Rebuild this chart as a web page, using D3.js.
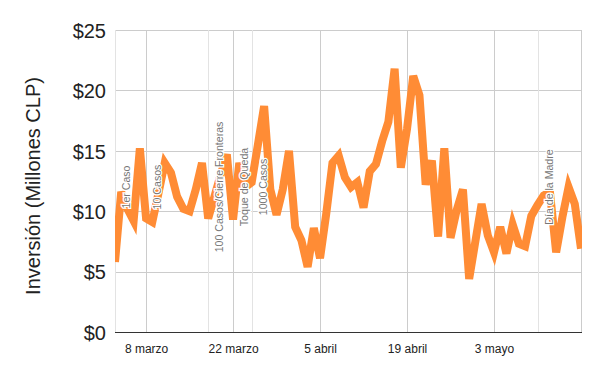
<!DOCTYPE html>
<html><head><meta charset="utf-8">
<script src="https://cdn.jsdelivr.net/npm/d3@7"></script>
<style>body{margin:0;background:#fff}svg{display:block}</style>
</head><body>
<svg id="c" width="600" height="371"></svg>
<script>
const startDate = "2020-03-03";
const values = [5.8,11.6,10.2,9.2,15.2,9.4,9.1,11.5,14.0,13.2,11.2,10.2,10.0,11.8,14.0,9.4,11.2,13.0,14.7,9.3,
14.0,12.0,12.4,15.5,18.7,11.8,9.7,11.8,15.0,8.7,7.6,5.4,8.6,6.1,9.8,14.0,14.6,12.8,12.0,12.4,
10.3,13.3,13.9,15.8,17.4,21.8,13.6,16.8,21.2,19.6,12.2,14.2,7.9,15.2,7.8,10.1,11.8,4.4,7.5,10.6,
8.0,6.6,8.7,6.5,8.9,7.3,7.1,9.6,10.5,11.3,11.6,6.6,9.5,12.0,10.6,6.9];
const tickDates = ["2020-03-08","2020-03-22","2020-04-05","2020-04-19","2020-05-03","2020-05-17"];
const tickLabels = ["8 marzo","22 marzo","5 abril","19 abril","3 mayo",""];
const yTicks = [0,5,10,15,20,25];
const annotationDates = ["2020-03-03","2020-03-08","2020-03-18","2020-03-22","2020-03-25","2020-05-10"];
const annotationLabels = ["1er Caso","10 Casos","100 Casos/Cierre Fronteras","Toque de Queda","1000 Casos","Día de la Madre"];
const yTitle = "Inversión (Millones CLP)";

const parse = d3.utcParse("%Y-%m-%d");
const t0 = parse(startDate);
const data = values.map((v,i)=>({date:d3.utcDay.offset(t0,i), value:v}));

const L=115,R=581,T=30,B=332;
const svg = d3.select("#c");
const font = "'Liberation Sans', Arial, sans-serif";
const x = d3.scaleUtc().domain([t0, data[data.length-1].date]).range([L,R]);
const y = d3.scaleLinear().domain([0,25]).range([B,T]);

// horizontal grid
svg.append("g").selectAll("line").data(yTicks.filter(d=>d>0)).join("line")
  .attr("x1",L).attr("x2",R+1).attr("y1",d=>Math.round(y(d))+0.5).attr("y2",d=>Math.round(y(d))+0.5)
  .attr("stroke","#cccccc").attr("stroke-width",1);
// annotation lines
svg.append("g").selectAll("line").data(annotationDates).join("line")
  .attr("x1",d=>Math.round(x(parse(d)))+0.5).attr("x2",d=>Math.round(x(parse(d)))+0.5)
  .attr("y1",T).attr("y2",B).attr("stroke","#e3e3e3").attr("stroke-width",1);
// vertical grid
svg.append("g").selectAll("line").data(tickDates).join("line")
  .attr("x1",d=>Math.round(x(parse(d)))+0.5).attr("x2",d=>Math.round(x(parse(d)))+0.5)
  .attr("y1",T).attr("y2",B).attr("stroke","#cccccc").attr("stroke-width",1);

// y axis labels
const yAxis = d3.axisLeft(y).tickValues(yTicks).tickFormat(d=>"$"+d).tickSize(0).tickPadding(0);
const ga = svg.append("g").attr("transform",`translate(${L-9},0)`).call(yAxis);
ga.select(".domain").remove();
ga.selectAll("text").attr("font-family",font).attr("font-size",20).attr("fill","#222").attr("dy","0.36em");

// x axis labels
const xAxis = d3.axisBottom(x).tickValues(tickDates.map(parse)).tickFormat((d,i)=>tickLabels[i]).tickSize(0).tickPadding(0);
const gx = svg.append("g").attr("transform",`translate(0,${B+12})`).call(xAxis);
gx.select(".domain").remove();
gx.selectAll("text").attr("font-family",font).attr("font-size",12).attr("fill","#222").attr("dy","0.72em");

// line
svg.append("clipPath").attr("id","clip").append("rect").attr("x",L).attr("y",0).attr("width",R-L+1).attr("height",371);
const line = d3.line().x(d=>x(d.date)).y(d=>y(d.value));
svg.append("path").datum(data).attr("d",line).attr("fill","none")
  .attr("stroke","#ff8c35").attr("stroke-width",8).attr("clip-path","url(#clip)");

// baseline
svg.append("line").attr("x1",L).attr("x2",R+1).attr("y1",B+0.5).attr("y2",B+0.5).attr("stroke","#333").attr("stroke-width",1);

// annotation labels
svg.append("g").selectAll("text").data(annotationDates).join("text")
  .attr("transform",d=>`translate(${x(parse(d))+11},187) rotate(-90)`)
  .attr("text-anchor","middle").attr("dominant-baseline","central")
  .attr("font-family",font).attr("font-size",10.6).attr("fill","#777")
  .attr("stroke","#fff").attr("stroke-width",2.5).attr("paint-order","stroke")
  .text((d,i)=>annotationLabels[i]);

// y title
svg.append("text").attr("transform","translate(33,186) rotate(-90)")
  .attr("text-anchor","middle").attr("dominant-baseline","central")
  .attr("font-family",font).attr("font-size",20).attr("fill","#222").text(yTitle);
</script>
</body></html>
